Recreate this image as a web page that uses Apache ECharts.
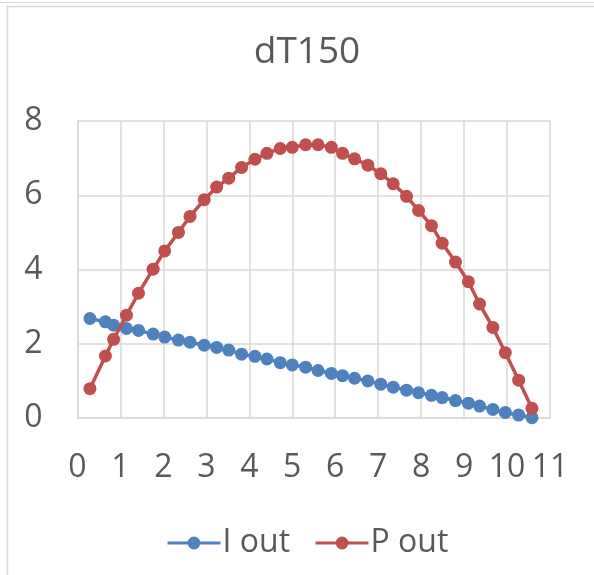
<!DOCTYPE html>
<html>
<head>
<meta charset="utf-8">
<script src="https://cdn.jsdelivr.net/npm/echarts@6/dist/echarts.min.js"></script>
<style>
html,body{margin:0;padding:0;background:#fff;}
#chart{width:594px;height:575px;}
</style>
</head>
<body>
<div id="chart"></div>
<script>
var titleText = 'dT150';
var seriesNames = ['I out', 'P out'];
var voltage = [0.29,0.65,0.84,1.14,1.42,1.76,2.03,2.35,2.62,2.95,3.24,3.52,3.82,4.13,4.41,4.72,5.00,5.31,5.60,5.91,6.17,6.45,6.76,7.06,7.35,7.66,7.94,8.24,8.49,8.80,9.10,9.36,9.67,9.96,10.27,10.58];
var iOut = [2.68,2.59,2.50,2.41,2.36,2.26,2.18,2.10,2.04,1.96,1.90,1.83,1.72,1.66,1.59,1.49,1.43,1.37,1.28,1.20,1.14,1.07,1.00,0.91,0.83,0.75,0.68,0.61,0.55,0.47,0.40,0.32,0.23,0.15,0.08,0.01];
var pOut = [0.79,1.67,2.12,2.77,3.36,4.01,4.50,5.00,5.43,5.88,6.22,6.46,6.75,6.97,7.13,7.26,7.29,7.36,7.36,7.29,7.13,6.98,6.81,6.58,6.31,5.97,5.59,5.18,4.71,4.20,3.67,3.07,2.44,1.76,1.02,0.26];

function pairs(xs, ys){ return xs.map(function(x,i){ return [x, ys[i]]; }); }

var textColor = '#595959';
var gridColor = '#d9d9d9';
var font = '"Open Sans", sans-serif';

var chart = echarts.init(document.getElementById('chart'), null, {renderer:'canvas'});
chart.setOption({
  animation: false,
  backgroundColor: '#ffffff',
  graphic: [
    {type:'line', shape:{x1:0,y1:2.5,x2:594,y2:2.5}, style:{stroke:gridColor, lineWidth:1}},
    {type:'rect', shape:{x:7.5,y:6.5,width:700,height:700}, style:{fill:'none', stroke:gridColor, lineWidth:1.5}}
  ],
  title: {
    text: titleText,
    left: 302, top: 29, textAlign: 'center',
    textStyle: {fontFamily: font, fontSize: 37, fontWeight: 'normal', color: textColor}
  },
  legend: {
    left: 161, top: 522,
    itemWidth: 53, itemHeight: 16, itemGap: 24,
    lineStyle: {width: 3},
    textStyle: {fontFamily: font, fontSize: 32, color: textColor, padding:[0,0,0,-3]},
    data: seriesNames
  },
  grid: {left: 77.5, right: 44, top: 121, bottom: 157, containLabel: false},
  xAxis: {
    type: 'value', min: 0, max: 11, interval: 1,
    axisLine: {show: true, lineStyle: {color: gridColor, width: 1.5}},
    axisTick: {show: false},
    splitLine: {show: true, lineStyle: {color: gridColor, width: 1.5}},
    axisLabel: {fontFamily: font, fontSize: 32, color: textColor, margin: 34, showMinLabel: true, showMaxLabel: true}
  },
  yAxis: {
    type: 'value', min: 0, max: 8, interval: 2,
    axisLine: {show: true, lineStyle: {color: gridColor, width: 1.5}},
    axisTick: {show: false},
    splitLine: {show: true, lineStyle: {color: gridColor, width: 1.5}},
    axisLabel: {fontFamily: font, fontSize: 32, color: textColor, margin: 35}
  },
  series: [
    {
      name: seriesNames[0], type: 'line', data: pairs(voltage, iOut),
      symbol: 'circle', symbolSize: 13,
      itemStyle: {color: '#4f81bd'},
      lineStyle: {color: '#4f81bd', width: 3.5},
      z: 2
    },
    {
      name: seriesNames[1], type: 'line', data: pairs(voltage, pOut),
      symbol: 'circle', symbolSize: 13,
      itemStyle: {color: '#c0504d'},
      lineStyle: {color: '#c0504d', width: 3.5},
      z: 3
    }
  ]
});
</script>
</body>
</html>
